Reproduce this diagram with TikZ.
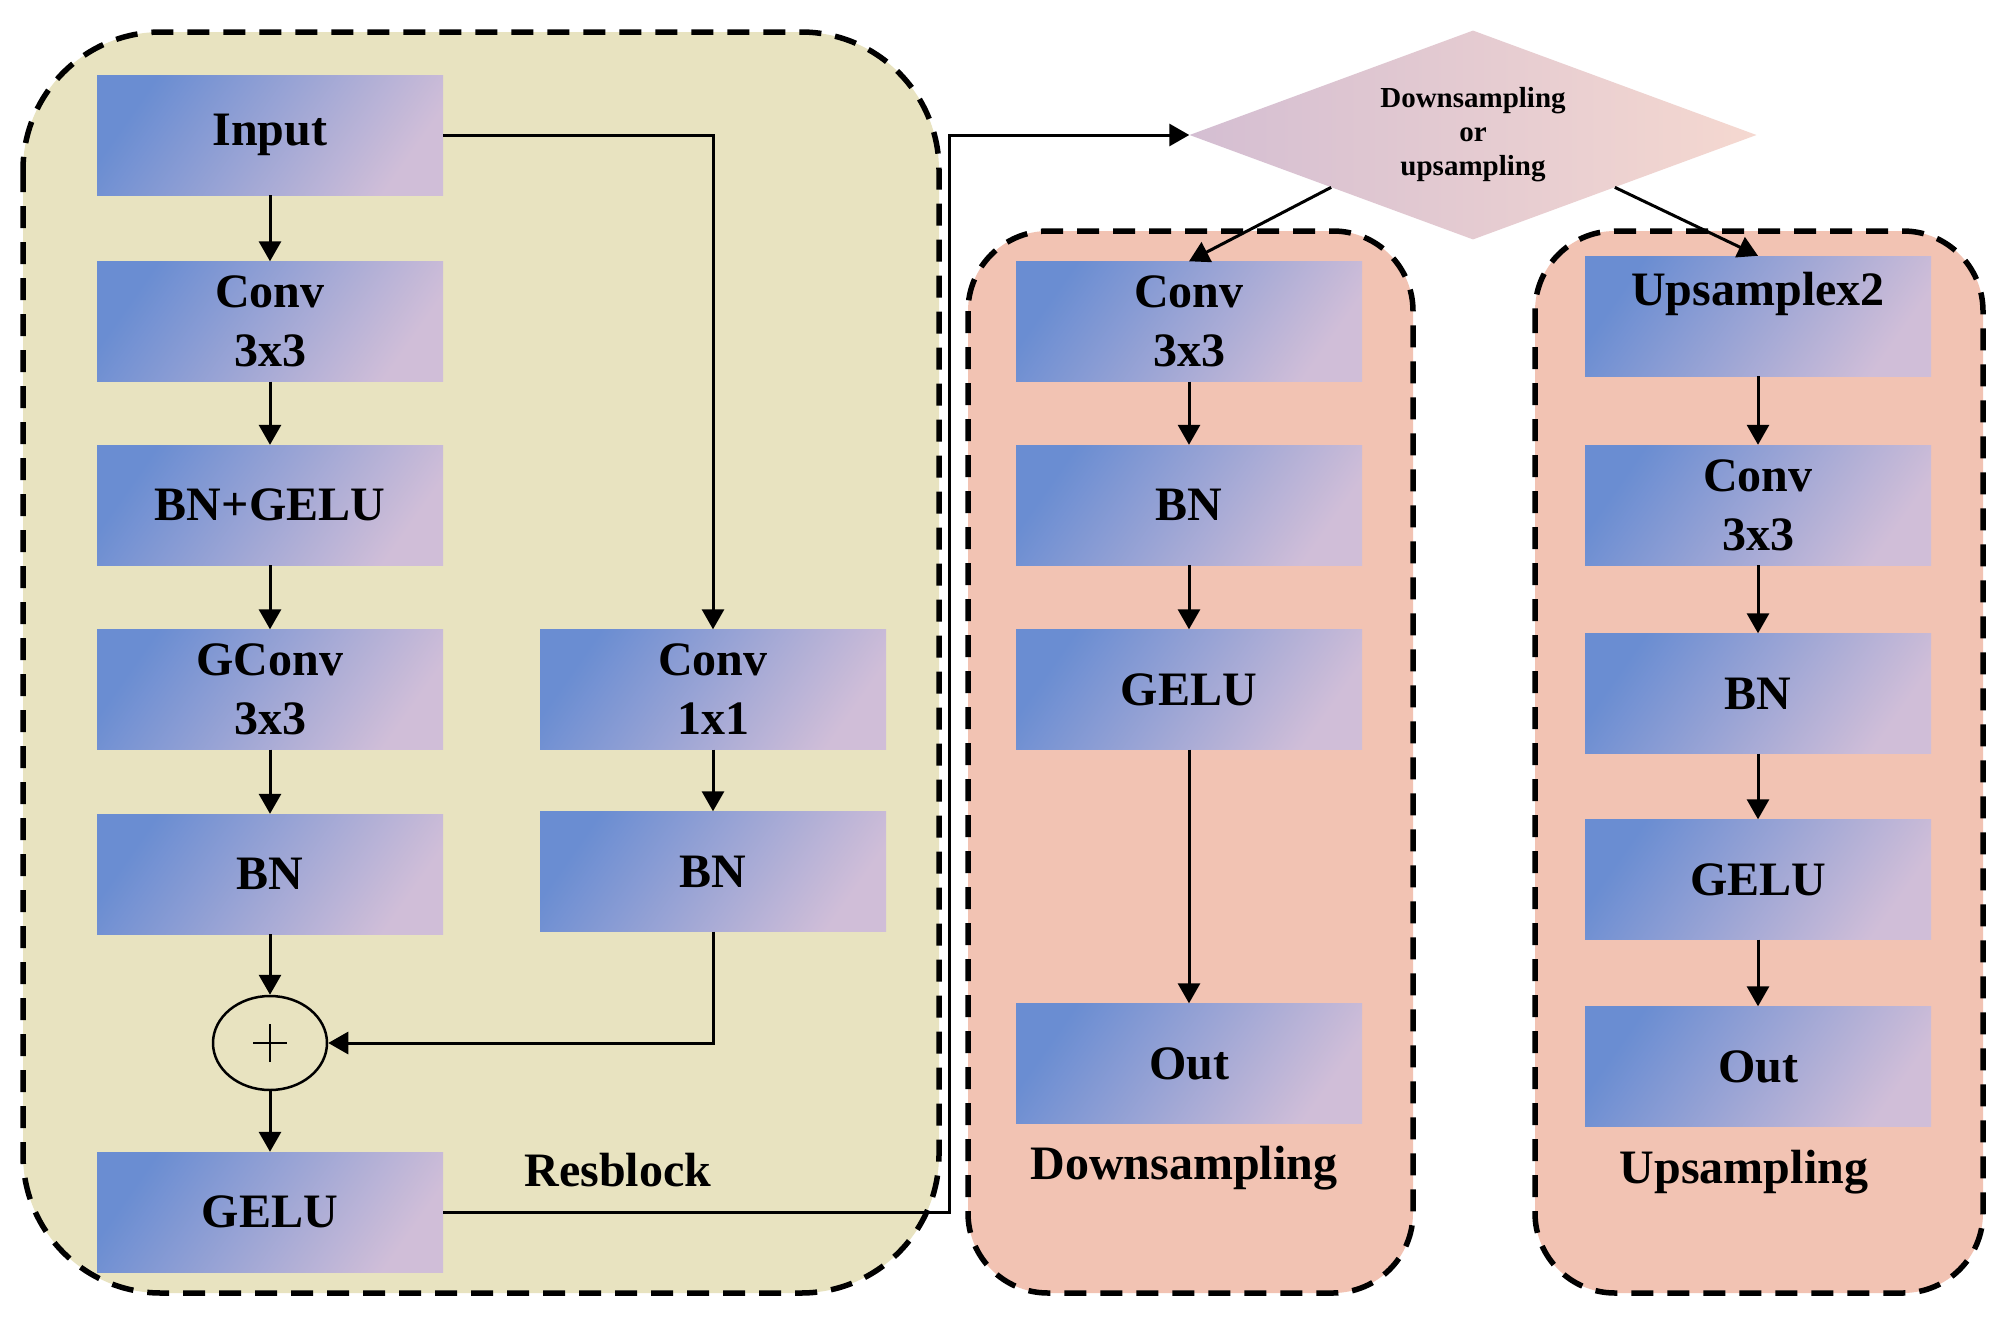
\documentclass[tikz,border=0pt]{standalone}
\usepackage{fontspec}
\setmainfont{Liberation Serif}
\usetikzlibrary{shapes.geometric,arrows.meta}
\definecolor{beige}{RGB}{232,227,192}
\definecolor{salmon}{RGB}{242,195,179}
\definecolor{bblue}{RGB}{106,141,210}
\definecolor{blav}{RGB}{208,190,216}
\definecolor{dleft}{RGB}{212,190,210}
\definecolor{dright}{RGB}{245,216,208}
\begin{document}
\begin{tikzpicture}[x=1pt,y=-1pt,
  blk/.style={rectangle, left color=bblue, right color=blav, shading angle=55,
    minimum width=346pt, minimum height=120pt, inner sep=0pt, align=center,
    font=\fontsize{48}{59}\selectfont\bfseries},
  cont/.style={draw=black, dash pattern=on 22pt off 14pt, line width=5.5pt},
  arr/.style={line width=3pt, -{Triangle[width=22pt,length=20pt]}},
  lbl/.style={font=\fontsize{48}{59}\selectfont\bfseries, inner sep=0pt},
  dtext/.style={font=\fontsize{29}{34}\selectfont\bfseries, align=center, inner sep=0pt}
]
\useasboundingbox[fill=white] (0,0) rectangle (2011,1328);

% containers
\draw[cont, fill=beige, rounded corners=138pt] (23,32) rectangle (939,1293);
\draw[cont, fill=salmon, rounded corners=80pt] (968,231) rectangle (1413,1293);
\draw[cont, fill=salmon, rounded corners=80pt] (1535,231) rectangle (1983,1293);

% Resblock left column
\node[blk] (input) at (270,135) {Input};
\node[blk] (conv1) at (270,321.5) {Conv\\3x3};
\node[blk] (bngelu) at (270,505) {BN+GELU};
\node[blk] (gconv) at (270,689.5) {GConv\\3x3};
\node[blk] (bnl) at (270,874) {BN};
\node[draw, ellipse, line width=2.5pt, minimum width=114pt, minimum height=94pt, inner sep=0pt] (plus) at (270,1043) {};
\node[blk] (gelu) at (270,1212) {GELU};
% Resblock right column
\node[blk] (conv11) at (713,689.5) {Conv\\1x1};
\node[blk] (bnr) at (713,871.5) {BN};
\node[lbl] (reslbl) at (618,1170) {Resblock};

% diamond
\node[diamond, left color=dleft, right color=dright, minimum width=567pt, minimum height=209pt, inner sep=0pt] (dia) at (1473,135) {};
\node[dtext] (diatext) at (dia.center) {Downsampling\\or\\upsampling};

% Downsampling column
\node[blk] (dconv) at (1189,321.5) {Conv\\3x3};
\node[blk] (dbn) at (1189,505) {BN};
\node[blk] (dgelu) at (1189,689.5) {GELU};
\node[blk] (dout) at (1189,1063.5) {Out};
\node[lbl] (downlbl) at (1184,1168) {Downsampling};

% Upsampling column
\node[blk, text height=33pt, text depth=55pt] (upx) at (1758,316) {Upsamplex2};
\node[blk] (uconv) at (1758,505) {Conv\\3x3};
\node[blk] (ubn) at (1758,693.5) {BN};
\node[blk] (ugelu) at (1758,879.5) {GELU};
\node[blk] (uout) at (1758,1066.5) {Out};
\node[lbl] (uplbl) at (1744,1172) {Upsampling};

% plus sign
\draw[line width=2pt] ([xshift=-17pt]plus.center) -- ([xshift=17pt]plus.center);
\draw[line width=2pt] ([yshift=-19pt]plus.center) -- ([yshift=19pt]plus.center);

% connectors resblock
\draw[arr] (input) -- (conv1);
\draw[arr] (conv1) -- (bngelu);
\draw[arr] (bngelu) -- (gconv);
\draw[arr] (gconv) -- (bnl);
\draw[arr] (bnl) -- (plus);
\draw[arr] (plus) -- (gelu);
\draw[arr] (input.east) -| (conv11.north);
\draw[arr] (conv11) -- (bnr);
\draw[arr] (bnr.south) |- (plus.east);
\coordinate (turn) at (949,1212);
\draw[arr] (gelu.east) -- (turn) |- (dia.west);

% diamond branches
\draw[arr] (dia.south west) -- (dconv.north);
\draw[arr] (dia.south east) -- (upx.north);

% downsampling
\draw[arr] (dconv) -- (dbn);
\draw[arr] (dbn) -- (dgelu);
\draw[arr] (dgelu) -- (dout);

% upsampling
\draw[arr] (upx) -- (uconv);
\draw[arr] (uconv) -- (ubn);
\draw[arr] (ubn) -- (ugelu);
\draw[arr] (ugelu) -- (uout);
\end{tikzpicture}
\end{document}
